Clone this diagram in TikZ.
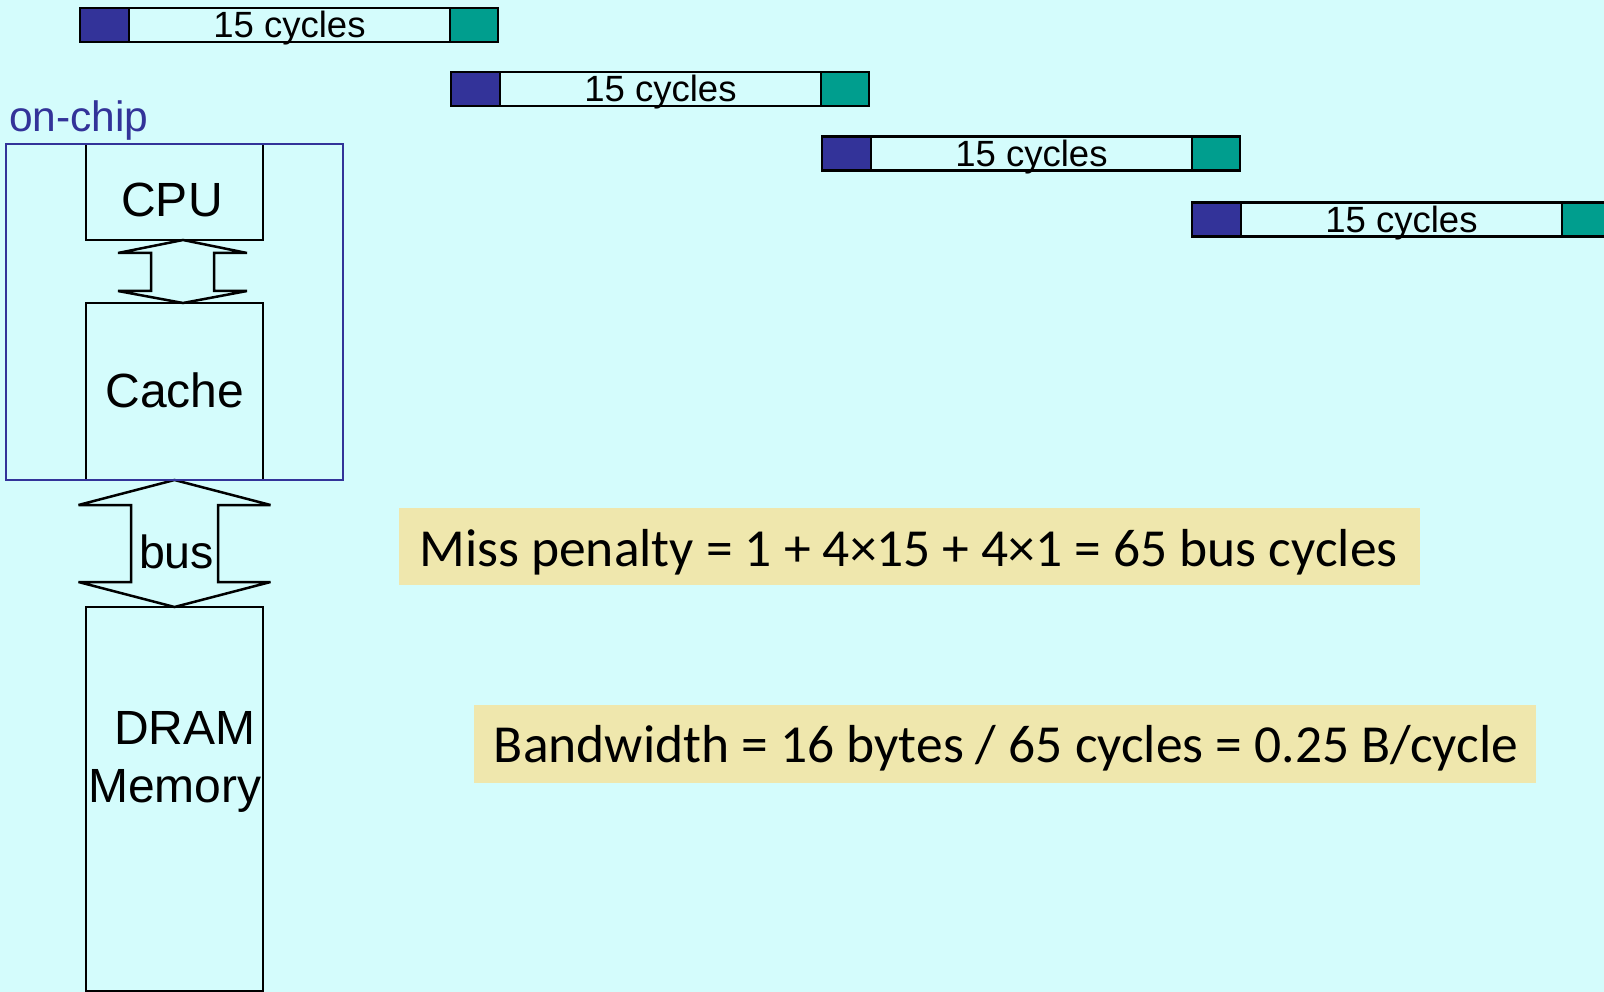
\documentclass[tikz,border=0pt]{standalone}
\usepackage{fontspec}
\setmainfont{Liberation Sans}
\newfontfamily\humfont{Carlito}
\usetikzlibrary{calc}
\definecolor{bg}{RGB}{212,252,252}
\definecolor{chipblue}{RGB}{51,51,153}
\definecolor{tealc}{RGB}{0,158,142}
\definecolor{notey}{RGB}{239,231,173}
\begin{document}
\begin{tikzpicture}[x=1pt,y=-1pt,
 seg/.style={draw=black,line width=2.5pt,inner sep=0pt,outer sep=0pt,minimum height=34pt},
 lseg/.style={seg,fill=chipblue,minimum width=49pt},
 mseg/.style={seg,minimum width=321pt},
 rseg/.style={seg,fill=tealc,minimum width=48pt},
 cyc/.style={anchor=base,inner sep=0pt,font=\fontsize{36.5}{40}\selectfont},
 blk/.style={draw=black,line width=2.5pt,inner sep=0pt,outer sep=0pt,minimum width=177pt},
 lbl/.style={anchor=base,inner sep=0pt,font=\fontsize{48}{56}\selectfont},
 barrow/.style={draw=black,line width=2.5pt,line join=miter,miter limit=2},
 notebox/.style={fill=notey,inner sep=0pt,outer sep=0pt},
 notetext/.style={anchor=base,inner sep=0pt,font=\humfont\fontsize{53.5}{60}\selectfont}
]
\useasboundingbox (0,0) rectangle (1604,992);
\clip (0,0) rectangle (1604,992);
\fill[bg] (0,0) rectangle (1604,992);

% timing bars
\foreach \i/\x/\y in {1/80/25,2/451/89,3/822/153.5,4/1192/219.5}{
  \node[lseg,anchor=west] (l\i) at (\x,\y) {};
  \node[mseg,anchor=west] (m\i) at (l\i.east) {};
  \node[rseg,anchor=west] (r\i) at (m\i.east) {};
  \node[cyc] (t\i) at ($(m\i.south)+(0,-4)$) {15 cycles};
}

% blocks
\node[blk,minimum height=96pt] (cpu) at (174.5,192) {};
\node[lbl] (cput) at (172,217) {CPU};
\node[blk,minimum height=177pt] (cache) at (174.5,391.5) {};
\node[lbl] (cachet) at (175,407) {Cache};
\node[blk,minimum height=384pt] (dram) at (174.5,799) {};
\node[lbl,anchor=base west] (dramt) at (114,744) {DRAM};
\node[lbl,anchor=base west] (memt) at (88,802) {Memory};

% CPU <-> Cache block arrow
\draw[barrow] ($(cpu.south)+(8.5,0)$) -- ++(64,13) -- ++(-33,0) -- ++(0,38) -- ++(33,0)
  -- ($(cache.north)+(8.5,0)$) -- ++(-65,-12) -- ++(33,0) -- ++(0,-38) -- ++(-33,0) -- cycle;

% bus block arrow
\draw[barrow] (cache.south) -- ++(96,25) -- ++(-52.5,0) -- ++(0,77) -- ++(52.5,0)
  -- (dram.north) -- ++(-96,-25) -- ++(52.5,0) -- ++(0,-77) -- ++(-52.5,0) -- cycle;
\node[lbl,font=\fontsize{46.5}{50}\selectfont] (bust) at (176.5,568) {bus};

% on-chip boundary
\node[draw=chipblue,line width=2pt,inner sep=0pt,minimum width=337pt,minimum height=336pt] (chip) at (174.5,312) {};
\node[anchor=base west,inner sep=0pt,text=chipblue,font=\fontsize{42.5}{50}\selectfont] (chiplbl) at (9,132) {on-chip};

% notes
\node[notebox,minimum width=1021pt,minimum height=77pt] (miss) at (909.5,546.5) {};
\node[notetext] (misst) at (908.5,566) {Miss penalty = 1 + 4×15 + 4×1 = 65 bus cycles};
\node[notebox,minimum width=1062pt,minimum height=78pt] (bw) at (1005,744) {};
\node[notetext] (bwt) at (1006,762) {Bandwidth = 16 bytes / 65 cycles = 0.25 B/cycle};
\end{tikzpicture}
\end{document}
